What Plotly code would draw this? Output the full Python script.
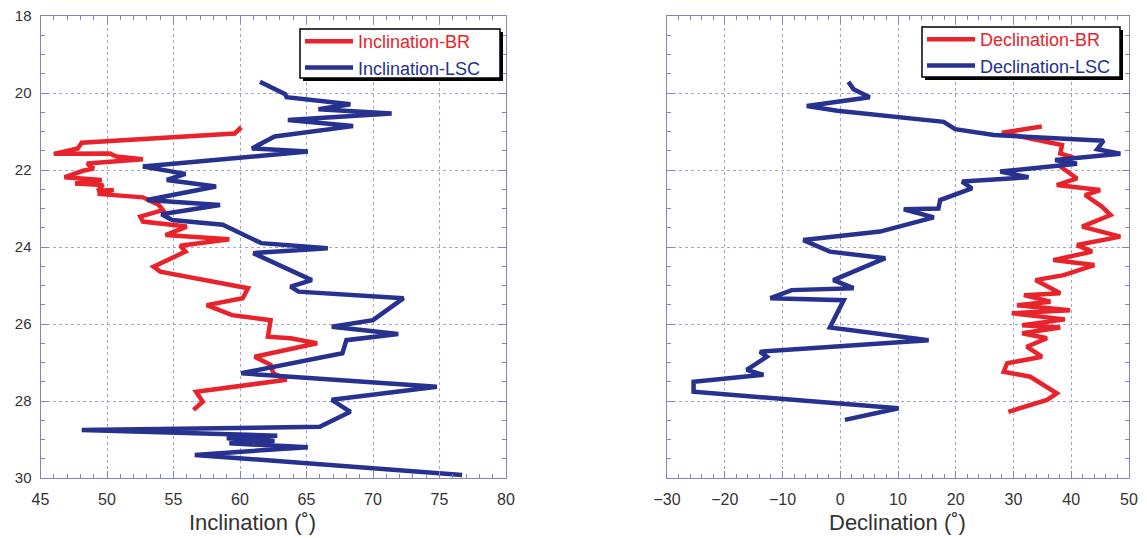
import plotly.graph_objects as go
from plotly.subplots import make_subplots

# ---- data (depth, value) ----
incl_br_depth = [20.89, 21.05, 21.29, 21.44, 21.58, 21.57, 21.65, 21.72, 21.83, 21.96, 22.02, 22.19, 22.26,
                 22.35, 22.39, 22.54, 22.52, 22.62, 22.71, 22.91, 23.04, 23.21, 23.34, 23.47, 23.69, 23.80,
                 23.97, 24.12, 24.51, 24.64, 25.07, 25.33, 25.51, 25.77, 25.90, 26.33, 26.37, 26.50, 26.85,
                 27.06, 27.28, 27.45, 27.76, 28.02, 28.23]
incl_br_val = [60.1, 59.6, 48.1, 47.8, 46.0, 50.2, 50.7, 52.7, 48.5, 49.0, 48.2, 46.8, 49.6,
               47.6, 49.7, 49.3, 50.5, 49.3, 52.7, 53.9, 54.2, 52.5, 52.7, 56.0, 54.4, 59.2,
               55.5, 55.9, 53.5, 54.0, 60.6, 60.2, 57.5, 59.4, 62.3, 62.1, 63.8, 65.8, 61.1,
               62.3, 62.5, 63.5, 56.7, 57.2, 56.5]

incl_lsc_depth = [19.71, 20.03, 20.11, 20.29, 20.42, 20.53, 20.70, 20.86, 21.13, 21.44, 21.52, 21.91, 22.10,
                  22.26, 22.43, 22.78, 22.91, 23.15, 23.30, 23.42, 23.90, 24.03, 24.16, 24.86, 25.03, 25.16,
                  25.33, 25.90, 26.07, 26.26, 26.42, 26.76, 27.28, 27.63, 27.97, 28.28, 28.67, 28.75, 28.90,
                  28.97, 29.04, 29.10, 29.20, 29.40, 29.92]
incl_lsc_val = [61.5, 63.4, 63.5, 68.3, 65.9, 71.4, 63.6, 68.5, 62.6, 60.9, 65.1, 52.7, 55.9,
                54.5, 58.2, 53.0, 58.5, 54.1, 54.9, 58.7, 61.6, 66.6, 61.0, 65.4, 63.8, 64.4,
                72.3, 70.0, 66.9, 71.9, 68.0, 67.7, 60.1, 74.8, 66.9, 68.3, 66.0, 48.1, 62.8,
                59.0, 62.6, 59.2, 65.1, 56.6, 76.7]

decl_br_depth = [20.87, 21.03, 21.18, 21.35, 21.57, 21.65, 21.91, 22.22, 22.39, 22.52, 22.65, 22.95, 23.17,
                 23.47, 23.73, 23.95, 24.12, 24.34, 24.47, 24.73, 24.86, 25.20, 25.25, 25.42, 25.51, 25.64,
                 25.72, 25.88, 26.03, 26.09, 26.24, 26.37, 26.59, 26.85, 27.02, 27.24, 27.37, 27.80, 27.97,
                 28.28]
decl_br_val = [34.9, 28.0, 32.9, 38.4, 38.1, 39.8, 38.1, 41.0, 37.5, 45.0, 42.4, 45.3, 46.8,
               41.9, 48.5, 41.0, 43.6, 36.9, 44.0, 38.7, 33.8, 38.1, 31.8, 36.4, 30.6, 39.8,
               29.7, 38.9, 31.5, 38.1, 31.5, 35.8, 32.3, 34.9, 28.9, 28.3, 32.9, 37.5, 35.8,
               29.1]

decl_lsc_depth = [19.71, 19.90, 20.11, 20.34, 20.46, 20.57, 20.75, 20.94, 21.09, 21.24, 21.46, 21.58, 21.74,
                  21.84, 22.04, 22.19, 22.30, 22.48, 22.78, 23.00, 23.02, 23.23, 23.60, 23.82, 24.12, 24.29,
                  24.86, 25.07, 25.12, 25.33, 25.38, 26.09, 26.42, 26.72, 26.85, 27.19, 27.32, 27.50, 27.76,
                  28.19, 28.49]
decl_lsc_val = [1.4, 2.3, 5.1, -5.8, -0.5, 6.9, 17.9, 19.9, 26.6, 45.6, 44.5, 48.5, 37.2,
                41.0, 27.7, 32.6, 21.1, 22.8, 17.3, 17.0, 11.0, 16.2, 6.9, -6.4, -1.8, 7.8,
                -1.2, 2.3, -8.4, -12.1, 0.6, -1.8, 15.3, -13.9, -12.7, -16.2, -13.3, -25.4, -25.4,
                10.1, 0.8]

depth_ticks = [18, 20, 22, 24, 26, 28, 30]
incl_ticks = [45, 50, 55, 60, 65, 70, 75, 80]
decl_ticks = [-30, -20, -10, 0, 10, 20, 30, 40, 50]

RED = "#e8232b"
BLUE = "#27318f"
FRAME = "#8485b8"
TXT = "#333333"
FONT = "Liberation Sans, Arial, sans-serif"
W, H = 1147, 538

fig = make_subplots(rows=1, cols=2)

fig.add_trace(go.Scatter(x=incl_br_val, y=incl_br_depth, mode="lines",
                         line=dict(color=RED, width=4.5),
                         name=f"<span style='color:{RED}'>Inclination-BR</span>", legend="legend"), 1, 1)
fig.add_trace(go.Scatter(x=incl_lsc_val, y=incl_lsc_depth, mode="lines",
                         line=dict(color=BLUE, width=4.5),
                         name=f"<span style='color:{BLUE}'>Inclination-LSC</span>", legend="legend"), 1, 1)
fig.add_trace(go.Scatter(x=decl_br_val, y=decl_br_depth, mode="lines",
                         line=dict(color=RED, width=4.5),
                         name=f"<span style='color:{RED}'>Declination-BR</span>", legend="legend2"), 1, 2)
fig.add_trace(go.Scatter(x=decl_lsc_val, y=decl_lsc_depth, mode="lines",
                         line=dict(color=BLUE, width=4.5),
                         name=f"<span style='color:{BLUE}'>Declination-LSC</span>", legend="legend2"), 1, 2)

x1 = [40.5 / W, 506 / W]
x2 = [667 / W, 1129 / W]
yd = [1 - 478 / H, 1 - 16 / H]

axis_common = dict(showline=True, linecolor=FRAME, linewidth=1, mirror="ticks",
                   ticks="inside", ticklen=7, tickcolor=FRAME,
                   showgrid=True, gridcolor="#a3a5cc", griddash="dot", gridwidth=1,
                   zeroline=False, automargin=False,
                   tickfont=dict(family=FONT, size=16, color=TXT))

fig.update_xaxes(**axis_common, domain=x1, range=[45, 80], tickvals=incl_ticks, ticklabelstandoff=7,
                 minor=dict(dtick=1, ticklen=4, ticks="inside", tickcolor=FRAME, showgrid=False),
                 row=1, col=1)
fig.update_xaxes(**axis_common, domain=x2, range=[-30, 50], tickvals=decl_ticks, ticklabelstandoff=7,
                 minor=dict(dtick=2, ticklen=4, ticks="inside", tickcolor=FRAME, showgrid=False),
                 row=1, col=2)
fig.update_yaxes(**axis_common, domain=yd, range=[30, 18], tickvals=depth_ticks, ticklabelstandoff=5,
                 row=1, col=1)
fig.update_yaxes(minor=dict(dtick=0.5, ticklen=4, ticks="inside", tickcolor=FRAME, showgrid=False),
                 tickfont=dict(size=15), row=1, col=1)
fig.update_yaxes(**axis_common, domain=yd, range=[30, 18], tickvals=depth_ticks, showticklabels=False,
                 minor=dict(dtick=0.5, ticklen=4, ticks="inside", tickcolor=FRAME, showgrid=False),
                 row=1, col=2)

legend_common = dict(bgcolor="rgba(0,0,0,0)", borderwidth=0,
                     font=dict(family=FONT, size=18),
                     xanchor="left", yanchor="top", itemwidth=48, tracegroupgap=0,
                     itemclick=False, itemdoubleclick=False)

fig.update_layout(
    width=W, height=H,
    margin=dict(l=0, r=0, t=0, b=0),
    paper_bgcolor="white", plot_bgcolor="white",
    showlegend=True,
    legend=dict(**legend_common, x=300 / W, y=1 - 23 / H),
    legend2=dict(**legend_common, x=922 / W, y=1 - 21 / H),
)

# legend frames with drop shadow
for (lx0, ly0, lx1, ly1) in [(300, 29, 500, 78), (922, 27, 1120, 77)]:
    fig.add_shape(type="rect", xref="paper", yref="paper",
                  x0=(lx0 + 3) / W, x1=(lx1 + 3) / W, y0=1 - (ly1 + 3) / H, y1=1 - (ly0 + 3) / H,
                  fillcolor="black", line=dict(width=0), layer="above")
    fig.add_shape(type="rect", xref="paper", yref="paper",
                  x0=lx0 / W, x1=lx1 / W, y0=1 - ly1 / H, y1=1 - ly0 / H,
                  fillcolor="white", line=dict(color="black", width=1.5), layer="above")

# axis titles
for cx, txt in [(252, "Inclination (˚)"), (897, "Declination (˚)")]:
    fig.add_annotation(x=cx / W, y=1 - 522 / H, xref="paper", yref="paper",
                       text=txt, showarrow=False, xanchor="center", yanchor="middle",
                       font=dict(family=FONT, size=22, color=TXT))

fig.write_html("out.html")
